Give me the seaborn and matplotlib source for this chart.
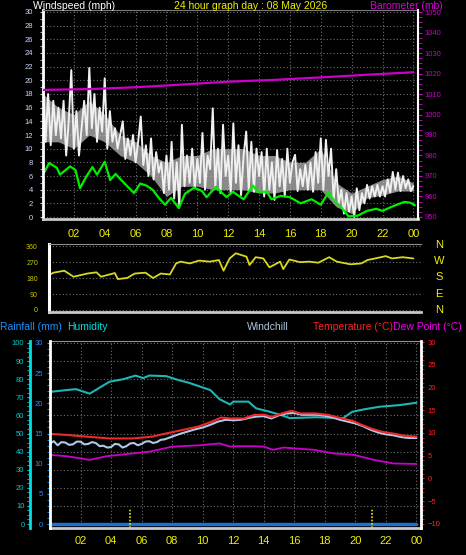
import numpy as np
import pandas as pd
import matplotlib
matplotlib.use("Agg")
import matplotlib.pyplot as plt
from matplotlib.ticker import MultipleLocator
import seaborn as sns

sns.set_style("dark")
plt.rcParams['font.family'] = ['Liberation Sans', 'DejaVu Sans']

# ---- data ----
# wind gusts, one sample every 10 minutes (mph)
gust_mph = [
    20.5, 11, 18, 10.5, 17, 12,
    16, 11.5, 17, 9, 14, 21.5,
    10, 15.5, 9, 13, 17, 12,
    21.8, 13, 18, 11, 16, 12.5,
    20.3, 10, 15.5, 11, 13, 10,
    12, 14, 8.5, 11.5, 9, 12,
    8, 11, 14.7, 7.6, 10.5, 6,
    11.5, 5.5, 9.5, 6.5, 8, 3.5,
    9, 4, 11, 2.7, 8, 1.5,
    13.5, 4.5, 9, 5, 10, 4.2,
    8.5, 5, 12.3, 4, 9, 7,
    15.9, 4.5, 10, 3.5, 13.5, 6,
    9, 3.5, 13.7, 5, 10.5, 3.2,
    9, 12.5, 4, 11, 3.7, 10,
    6, 9.5, 3, 10, 4, 8,
    2.5, 9.8, 4.5, 8.5, 3, 10,
    5, 8, 9.1, 3.8, 7, 4.5,
    7.6, 4, 8, 3.7, 9.5, 5,
    11.5, 4, 11.3, 6, 10, 2.5,
    7, 2, 4, 0.5, 3.5, 0.8,
    3, 0, 4.2, 1, 3.5, 2,
    4.7, 2.7, 4.5, 3, 4.7, 3,
    4.5, 3, 5.5, 3.6, 6.6, 4,
    6.5, 3.8, 6, 4.2, 5.5, 3.8,
    4.5,
]
# hourly band where the gust trace is densest (mph)
band_hours = list(range(0, 25))
gust_lo = [11, 11, 10, 12, 11, 9, 8, 6, 3, 4.5, 4.5, 4, 4, 4, 3.5, 3.5, 4, 4, 4,
           1.5, 0.5, 2.8, 3.2, 3.8, 3.8]
gust_hi = [18, 16, 15, 17, 15, 12, 11, 9, 8, 9, 9, 10, 10, 10, 9, 9, 8, 8, 10,
           5, 3.5, 4.5, 5.5, 6, 5]

avg_hours = [0.1, 0.4, 0.9, 1.1, 1.75, 2.1, 2.4, 2.8, 3.2, 3.5, 4.0, 4.35, 4.7, 5.2,
             5.9, 6.3, 6.7, 7.1, 7.5, 7.9, 8.3, 8.8, 9.2, 9.8, 10.3, 10.6, 11.2, 11.9,
             12.3, 13.0, 13.6, 13.9, 14.5, 14.8, 15.4, 16.0, 16.7, 17.4, 18.0, 18.5,
             18.8, 19.3, 19.8, 20.4, 21.0, 21.6, 22.0, 22.7, 23.4, 23.8, 24.1]
avg_mph = [6.6, 7.9, 7.2, 6.2, 7.4, 6.9, 4.2, 5.9, 7.3, 6.2, 8.1, 5.4, 6.3, 5.1,
           3.5, 4.9, 4.6, 4.0, 2.8, 1.8, 2.8, 1.3, 3.4, 4.3, 3.8, 2.9, 4.4, 2.9,
           3.7, 2.6, 4.6, 3.7, 3.7, 2.6, 3.1, 2.9, 2.0, 2.6, 1.8, 3.6,
           2.6, 1.5, 0.1, 0.2, 0.9, 1.2, 0.9, 1.6, 2.2, 2.1, 1.7]

baro_hours = [0, 3, 6, 9, 12, 15, 18, 21, 24]
baro_mb = [1012, 1012.4, 1013.3, 1014.6, 1016, 1016.9, 1018.1, 1019.4, 1020.6]

dir_hours = [0, 0.3, 1, 1.6, 2.5, 3.1, 3.4, 4.3, 4.5, 5.1, 5.6, 6.3, 6.8, 7.3, 7.9,
             8.3, 8.6, 9.2, 9.8, 10.5, 11.1, 11.4, 11.8, 12.2, 12.9, 13.1, 13.5, 14,
             14.4, 15.1, 15.3, 15.7, 16.4, 17, 17.6, 18.3, 18.8, 19.7, 20.4, 20.8,
             21.3, 22, 22.4, 23.1, 23.8]
dir_deg = [197, 210, 221, 187, 205, 212, 187, 208, 174, 180, 205, 210, 180, 205, 200,
           262, 272, 262, 278, 272, 281, 221, 290, 319, 300, 253, 297, 290,
           240, 272, 230, 284, 269, 272, 266, 297, 272, 257, 262, 281,
           290, 303, 290, 297, 290]

hum_hours = [0, 1.1, 1.7, 2.6, 3.3, 3.9, 4.8, 5.6, 6.1, 6.5, 7.6, 8.3, 9.1, 9.8, 10.5,
             11.1, 11.8, 12, 13, 13.5, 14.4, 15.2, 15.7, 17.4, 19.2, 19.8, 20.6, 21.6,
             22.2, 22.9, 24]
hum_pct = [73, 74, 74.5, 72, 75.6, 78.6, 80, 82, 80.6, 82, 81.7, 79.8, 78, 76, 74,
           69, 66, 67.6, 67.6, 63.9, 62, 60, 58.5, 59, 58.5, 62, 63.4, 64.8,
           65.2, 65.7, 67]

temp_hours = [0, 1, 2.4, 3.9, 5.4, 6.7, 7.6, 8.6, 9.7, 10.6, 11.2, 11.8, 12.7, 13.4,
              14.1, 14.5, 15.2, 15.8, 16.4, 17.4, 18.2, 19.1, 19.8, 20.4, 21.1, 21.7,
              22.6, 23.2, 24]
temp_c = [9.8, 9.6, 9.2, 8.8, 8.8, 9.2, 9.9, 10.6, 11.4, 12.5, 13.4, 13.2, 13.2, 14.0,
          14.0, 13.5, 14.3, 14.9, 14.3, 14.3, 14.0, 13.2, 12.7, 11.8, 10.9, 10.3,
          9.8, 9.4, 9.2]

chill_hours = [0, 0.25, 0.5, 0.75, 1, 1.25, 1.5, 1.75, 2, 2.25, 2.5, 2.75, 3, 3.25,
               3.5, 3.75, 4, 4.25, 4.5, 4.75, 5, 5.25, 5.5, 5.75, 6, 6.25, 6.5, 6.75,
               7, 7.25, 7.5, 7.75, 8, 8.5, 9, 9.5, 10, 10.5, 11, 11.5, 12, 12.5, 13,
               13.5, 14, 14.5, 15, 15.5, 16, 16.5, 17, 17.5, 18, 18.5, 19, 19.5, 20,
               20.5, 21, 21.5, 22, 22.5, 23, 23.5, 24]
chill_c = [7.7, 8.2, 7.3, 8.0, 7.9, 7.4, 7.5, 8.1, 8.1, 7.5, 7.6, 8.0, 7.8, 7.1,
           7.2, 6.8, 6.9, 7.6, 7.5, 6.8, 7.1, 7.7, 7.8, 7.3, 7.6, 8.1, 8.2, 7.8,
           8.0, 8.5, 8.6, 8.9, 9.2, 9.8, 10.3, 10.8, 11.2, 11.8, 12.5, 12.9, 12.8, 12.9, 13.3,
           13.6, 13.7, 13.2, 13.9, 14.3, 14.4, 14.0, 14.0, 14.0, 13.8, 13.4, 12.9, 12.5, 12.1,
           11.5, 10.7, 10.1, 9.7, 9.5, 9.1, 8.9, 8.9]

dew_hours = [0, 1.1, 2.6, 3.7, 5.4, 6.5, 8, 9.8, 11.1, 11.8, 12, 13.4, 14, 14.6, 15.3,
             17.3, 18.6, 19.9, 21.2, 22.5, 24]
dew_c = [5.2, 4.9, 4.1, 4.9, 5.5, 5.9, 7.0, 7.3, 7.7, 7.0, 7.1, 7.1, 7.0, 6.3, 6.8,
         6.3, 5.5, 5.2, 4.1, 3.3, 3.2]

rain_hours = [0, 6, 12, 18, 24]
rain_mm = [0, 0, 0, 0, 0]

sun_events = [5.25, 21.1]          # sunrise / sunset markers
hour_ticks = list(range(2, 25, 2))
hour_labels = [f"{h % 24:02d}" for h in hour_ticks]
compass = ["N", "W", "S", "E", "N"]

# ---- layout helpers ----
W, H = 466, 555
fig = plt.figure(figsize=(W / 100, H / 100), dpi=100, facecolor='black')


def box(l, t, r, b):
    return [l / W, 1 - b / H, (r - l) / W, (b - t) / H]


GRID = dict(color='#6e6e6e', ls=(0, (1, 2)), lw=0.8)
XCOL = '#f0f000'
HFS = 7.5   # header font size


def clean(ax):
    ax.set_facecolor('black')
    for s in ax.spines.values():
        s.set_visible(False)


# ================= top panel: wind + barometer =================
ax1 = fig.add_axes(box(43, 10, 418, 219))
clean(ax1)
ax1.set_xlim(0, 24.3)
ax1.set_ylim(-0.29, 30.29)
ax1.fill_between(band_hours, gust_lo, gust_hi, color='#c4c4c4', alpha=0.7, lw=0)
gust_time = np.arange(len(gust_mph)) / 6
sns.lineplot(x=gust_time, y=gust_mph, ax=ax1, color='#f0f0f0', lw=1.4)
sns.lineplot(x=avg_hours, y=avg_mph, ax=ax1, color='#00ee00', lw=1.6)
ax1.set_xticks(hour_ticks)
ax1.set_xticklabels(hour_labels)
ax1.set_yticks(range(0, 31, 2))
ax1.yaxis.set_minor_locator(MultipleLocator(1))
ax1.grid(True, which='major', **GRID)
ax1.tick_params(axis='x', colors='#a0a0a0', labelcolor=XCOL, labelsize=8, length=2, pad=5.5)
ax1.tick_params(axis='y', which='both', colors='#d0d0d0', labelcolor='#c8d8ff', labelsize=5.5, length=2, pad=5)
ax1.spines['left'].set_visible(True)
ax1.spines['left'].set_color('white')
ax1.spines['left'].set_linewidth(2)
ax1.spines['bottom'].set_visible(True)
ax1.spines['bottom'].set_color('#c8c8c8')
ax1.spines['bottom'].set_linewidth(2)
ax1.spines['top'].set_visible(True)
ax1.spines['top'].set_color('#7a7a7a')
ax1.spines['top'].set_linewidth(0.8)
ax1.set_xlabel('')

ax1b = ax1.twinx()
clean(ax1b)
ax1b.patch.set_visible(False)
ax1b.set_ylim(949.02, 1050.98)
sns.lineplot(x=baro_hours, y=baro_mb, ax=ax1b, color='#cc00cc', lw=1.6)
ax1b.set_yticks(range(950, 1051, 10))
ax1b.yaxis.set_minor_locator(MultipleLocator(2.5))
ax1b.tick_params(axis='y', which='both', colors='#cc00cc', labelcolor='#cc00cc', labelsize=5.5, length=3, pad=2)
ax1b.spines['right'].set_visible(True)
ax1b.spines['right'].set_color('white')
ax1b.spines['right'].set_linewidth(1.5)
ax1b.grid(False)

fig.text(33 / W, 1 - 6 / H, "Windspeed (mph)", color='white', fontsize=HFS, va='center')
fig.text(251 / W, 1 - 6 / H, "24 hour graph day : 08 May 2026", color='#f0f000', fontsize=HFS,
         va='center', ha='center')
fig.text(443 / W, 1 - 6 / H, "Barometer (mb)", color='#dd00dd', fontsize=HFS, va='center', ha='right')

# ================= middle panel: wind direction =================
ax2 = fig.add_axes(box(49, 244, 421, 312))
clean(ax2)
ax2.set_xlim(0, 24.3)
ax2.set_ylim(-11.25, 371.25)
sns.lineplot(x=dir_hours, y=dir_deg, ax=ax2, color='#d8d820', lw=1.3)
ax2.set_xticks([])
ax2.set_yticks([0, 90, 180, 270, 360])
ax2.yaxis.set_minor_locator(MultipleLocator(22.5))
ax2.grid(True, axis='y', **GRID)
ax2.tick_params(axis='y', which='both', colors='#cccc00', labelcolor='#cccc00', labelsize=5, length=2, pad=6)
ax2.spines['left'].set_visible(True)
ax2.spines['left'].set_color('white')
ax2.spines['left'].set_linewidth(2.2)
ax2.spines['bottom'].set_visible(True)
ax2.spines['bottom'].set_color('#c8c8c8')
ax2.spines['bottom'].set_linewidth(2)
ax2.spines['top'].set_visible(True)
ax2.spines['top'].set_color('#909090')
ax2.spines['top'].set_linewidth(0.8)
for i, lab in enumerate(compass):
    fig.text(439 / W, 1 - (245 + i * 16.2) / H, lab, color='#f0f000', fontsize=8,
             ha='center', va='center')

# ================= bottom panel: humidity / temperature / rain =================
ax3 = fig.add_axes(box(50, 341, 421, 528))
clean(ax3)
ax3.set_xlim(0, 24.3)
ax3.set_ylim(-2.2, 101.1)
sns.lineplot(x=hum_hours, y=hum_pct, ax=ax3, color='#1fb5b5', lw=1.5)
ax3.set_xticks(hour_ticks)
ax3.set_xticklabels(hour_labels)
ax3.set_yticks(range(0, 101, 10))
ax3.yaxis.set_minor_locator(MultipleLocator(2.5))
ax3.grid(True, which='major', **GRID)
ax3.tick_params(axis='x', colors='#a0a0a0', labelcolor=XCOL, labelsize=8, length=2, pad=4)
ax3.tick_params(axis='y', which='both', colors='#00d0d0', labelcolor='#00d0d0', labelsize=5.5, length=2, pad=2)
ax3.spines['left'].set_visible(True)
ax3.spines['left'].set_position(('outward', 14.4))
ax3.spines['left'].set_color('#00e0e0')
ax3.spines['left'].set_linewidth(2)
ax3.spines['bottom'].set_visible(True)
ax3.spines['bottom'].set_color('#c8c8c8')
ax3.spines['bottom'].set_linewidth(2)
ax3.spines['top'].set_visible(True)
ax3.spines['top'].set_color('#909090')
ax3.spines['top'].set_linewidth(0.8)

ax3t = ax3.twinx()
clean(ax3t)
ax3t.patch.set_visible(False)
ax3t.set_ylim(-10.88, 30.22)
sns.lineplot(x=chill_hours, y=chill_c, ax=ax3t, color='#b0c8e8', lw=1.5)
sns.lineplot(x=temp_hours, y=temp_c, ax=ax3t, color='#ee2a2a', lw=1.5)
sns.lineplot(x=dew_hours, y=dew_c, ax=ax3t, color='#cc00cc', lw=1.3)
ax3t.set_yticks(range(-10, 31, 5))
ax3t.yaxis.set_minor_locator(MultipleLocator(1))
ax3t.tick_params(axis='y', which='both', colors='#dd2020', labelcolor='#ff2020', labelsize=5.5, length=2, pad=3)
ax3t.spines['right'].set_visible(True)
ax3t.spines['right'].set_color('white')
ax3t.spines['right'].set_linewidth(2)
ax3t.grid(False)

ax3r = ax3.twinx()
clean(ax3r)
ax3r.patch.set_visible(False)
ax3r.yaxis.tick_left()
ax3r.set_ylim(-0.66, 30.33)
sns.lineplot(x=rain_hours, y=rain_mm, ax=ax3r, color='#1f6fd0', lw=2.5)
ax3r.vlines(sun_events, -0.66, 2.65, colors='#e8e800', linestyles=(0, (1, 1)), lw=1.2)
ax3r.set_yticks(range(0, 31, 5))
ax3r.yaxis.set_minor_locator(MultipleLocator(1))
ax3r.tick_params(axis='y', which='both', colors='#1e90ff', labelcolor='#1e90ff', labelsize=5.5, length=2, pad=3)
ax3r.spines['left'].set_visible(True)
ax3r.spines['left'].set_color('white')
ax3r.spines['left'].set_linewidth(2)
ax3r.grid(False)

hy = 1 - 327 / H
fig.text(0 / W, hy, "Rainfall (mm)", color='#1e90ff', fontsize=HFS, va='center')
fig.text(67 / W, hy, "Humidity", color='#00e0e0', fontsize=HFS, va='center')
fig.text(247 / W, hy, "Windchill", color='#b0c4de', fontsize=HFS, va='center')
fig.text(313 / W, hy, "Temperature (°C)", color='#ff2020', fontsize=HFS, va='center')
fig.text(462 / W, hy, "Dew Point (°C)", color='#ee00ee', fontsize=HFS, va='center', ha='right')

fig.savefig("out.png", dpi=100, facecolor='black')
